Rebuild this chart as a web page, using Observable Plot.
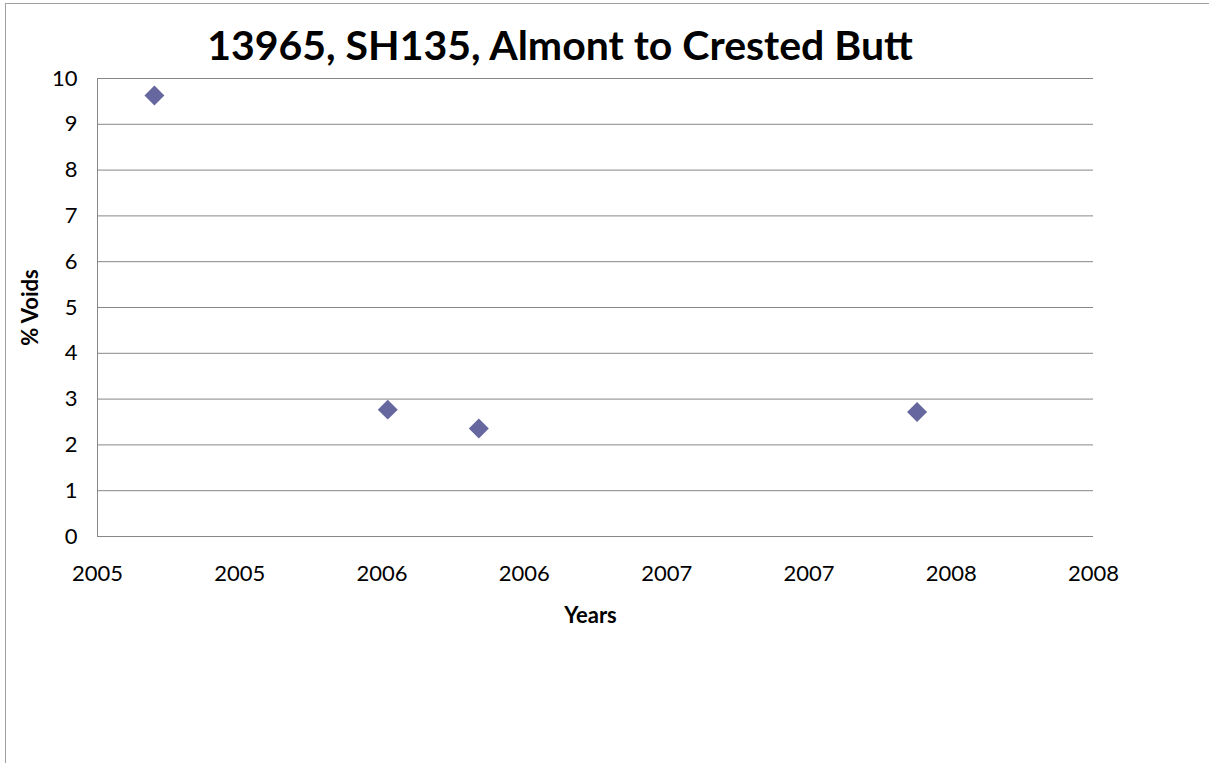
<!DOCTYPE html>
<html>
<head>
<meta charset="utf-8">
<script src="https://cdn.jsdelivr.net/npm/d3@7"></script>
<script src="https://cdn.jsdelivr.net/npm/@observablehq/plot@0.6"></script>
<style>
  html, body { margin: 0; padding: 0; background: #fff; overflow: hidden; }
  #wrap { position: relative; width: 1209px; height: 763px; font-family: Lato, "Open Sans", sans-serif; }
  #frame { position: absolute; left: 5px; top: 3px; width: 1400px; height: 1000px; border-left: 1px solid #a0a0a0; border-top: 1px solid #a0a0a0; }
  #titlebox { position: relative; height: 70px; }
  #title { position: absolute; left: 0; width: 1120px; top: 24px; text-align: center; font-size: 41px; line-height: 41px; font-weight: bold; color: #000; }
  #chart { position: relative; }
</style>
</head>
<body>
<div id="wrap">
  <div id="frame"></div>
  <div id="titlebox"><div id="title">13965, SH135, Almont to Crested Butt</div></div>
  <div id="chart"></div>
</div>
<script>
// Data
const years = [2005.20, 2006.02, 2006.34, 2007.88];
const voids = [9.63, 2.77, 2.36, 2.72];

// Axis ticks
const xTicks = [2005, 2005.5, 2006, 2006.5, 2007, 2007.5, 2008, 2008.5];
const xTickLabels = ["2005", "2005", "2006", "2006", "2007", "2007", "2008", "2008"];
const yTicks = [0, 1, 2, 3, 4, 5, 6, 7, 8, 9, 10];

const data = years.map((x, i) => ({x, y: voids[i]}));

const gridColor = "#878787";

const chart = Plot.plot({
  width: 1209,
  height: 693,
  marginTop: 8,
  marginBottom: 227,
  marginLeft: 97,
  marginRight: 116,
  style: { fontFamily: "Lato, 'Open Sans', sans-serif", fontSize: "22px", color: "#000", background: "transparent", overflow: "visible" },
  x: { domain: [2005, 2008.5], label: null },
  y: { domain: [0, 10], label: null },
  marks: [
    Plot.gridY(yTicks, { stroke: gridColor, strokeOpacity: 1, strokeWidth: 1 }),
    Plot.ruleX([2005], { stroke: gridColor, strokeWidth: 1 }),
    Plot.axisY(yTicks, { tickSize: 0, tickPadding: 20, fontSize: 22, label: null }),
    Plot.axisX(xTicks, { tickSize: 0, tickPadding: 29, fontSize: 22, label: null,
      tickFormat: (d) => xTickLabels[xTicks.indexOf(d)] }),
    Plot.dot(data, { x: "x", y: "y", symbol: "diamond2", r: 9, fill: "#6767a0", stroke: "none" }),
    Plot.text(["% Voids"], { frameAnchor: "left", dx: -67, rotate: -90, textAnchor: "middle",
      fontWeight: "bold", fontSize: 22, fill: "#000" }),
    Plot.text(["Years"], { frameAnchor: "bottom", dx: -5, dy: 86, textAnchor: "middle",
      fontWeight: "bold", fontSize: 22, fill: "#000" })
  ]
});

document.getElementById("chart").appendChild(chart);
</script>
</body>
</html>
